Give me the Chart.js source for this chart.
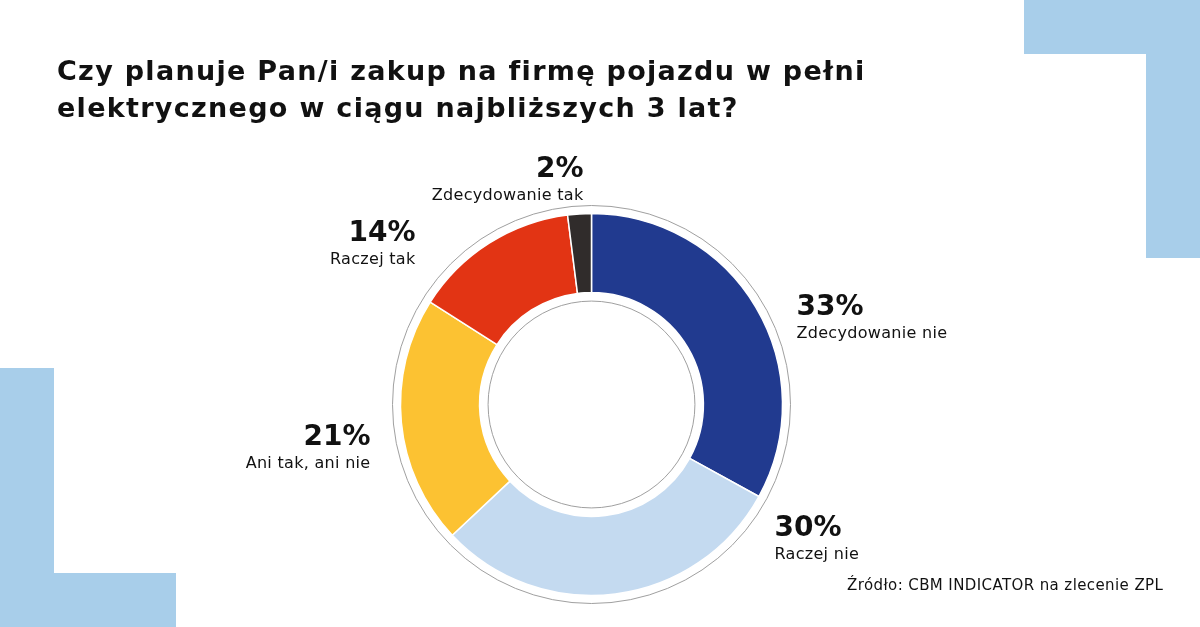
<!DOCTYPE html>
<html lang="pl">
<head>
<meta charset="utf-8">
<script src="https://cdn.jsdelivr.net/npm/chart.js@4.4.1/dist/chart.umd.min.js"></script>
<style>
  html, body { margin: 0; padding: 0; background: #fff; }
  #wrap { width: 1200px; height: 627px; }
</style>
</head>
<body>
<div id="wrap"><canvas id="chart" width="1200" height="627"></canvas></div>
<script>
// dane z wykresu
const categories = ['Zdecydowanie nie', 'Raczej nie', 'Ani tak, ani nie', 'Raczej tak', 'Zdecydowanie tak'];
const shares = [33, 30, 21, 14, 2];
const percentLabels = ['33%', '30%', '21%', '14%', '2%'];
const titleLines = ['Czy planuje Pan/i zakup na firmę pojazdu w pełni', 'elektrycznego w ciągu najbliższych 3 lat?'];
const sourceNote = 'Źródło: CBM INDICATOR na zlecenie ZPL';

// wyglad
const sliceColors = ['#213a8f', '#c4daf0', '#fcc232', '#e23414', '#302c2b'];
const accent = '#a8ceea';
const textColor = '#111111';
const fontFamily = '"DejaVu Sans", "Noto Sans", sans-serif';

// polozenie etykiet wzgledem srodka pierscienia (px)
const labelPlacement = [
    { dx: 205, dy: -90, align: 'left' },
    { dx: 183, dy: 131, align: 'left' },
    { dx: -221, dy: 40, align: 'right' },
    { dx: -176, dy: -164, align: 'right' },
    { dx: -8, dy: -228, align: 'right' }
];

const backgroundPlugin = {
    id: 'background',
    beforeDraw(chart) {
        const ctx = chart.ctx;
        ctx.save();
        ctx.fillStyle = '#fff';
        ctx.fillRect(0, 0, chart.width, chart.height);

        // narozniki
        ctx.fillStyle = accent;
        ctx.fillRect(1024, 0, 176, 54);
        ctx.fillRect(1146, 0, 54, 258);
        ctx.fillRect(0, 368, 54, 259);
        ctx.fillRect(0, 573, 176, 54);

        // tytul
        ctx.fillStyle = textColor;
        ctx.textAlign = 'left';
        ctx.textBaseline = 'alphabetic';
        ctx.font = 'bold 27px ' + fontFamily;
        ctx.letterSpacing = '1.3px';
        titleLines.forEach((line, i) => {
            ctx.fillText(line, 57, 80 + i * 37);
        });

        // zrodlo
        ctx.font = '15px ' + fontFamily;
        ctx.letterSpacing = '0.4px';
        ctx.fillText(sourceNote, 847, 590);
        ctx.restore();
    }
};

const ringPlugin = {
    id: 'rings',
    afterDatasetsDraw(chart) {
        const arc = chart.getDatasetMeta(0).data[0];
        if (!arc) return;
        const ctx = chart.ctx;
        ctx.save();
        ctx.strokeStyle = '#a0a0a0';
        ctx.lineWidth = 1;
        ctx.beginPath();
        ctx.arc(arc.x, arc.y, arc.outerRadius + 8, 0, Math.PI * 2);
        ctx.stroke();
        ctx.beginPath();
        ctx.arc(arc.x, arc.y, arc.innerRadius - 8.5, 0, Math.PI * 2);
        ctx.stroke();
        ctx.restore();
    }
};

const labelPlugin = {
    id: 'sliceLabels',
    afterDatasetsDraw(chart) {
        const arc = chart.getDatasetMeta(0).data[0];
        if (!arc) return;
        const ctx = chart.ctx;
        ctx.save();
        ctx.fillStyle = textColor;
        ctx.textBaseline = 'alphabetic';
        categories.forEach((name, i) => {
            const p = labelPlacement[i];
            const x = arc.x + p.dx;
            const y = arc.y + p.dy;
            ctx.textAlign = p.align;
            ctx.letterSpacing = '0px';
            ctx.font = 'bold 28px ' + fontFamily;
            ctx.fillText(percentLabels[i], x, y);
            ctx.letterSpacing = '0.3px';
            ctx.font = '16px ' + fontFamily;
            ctx.fillText(name, x, y + 23);
        });
        ctx.restore();
    }
};

new Chart(document.getElementById('chart'), {
    type: 'doughnut',
    data: {
        labels: categories,
        datasets: [{
            data: shares,
            backgroundColor: sliceColors,
            borderColor: '#ffffff',
            borderWidth: 1.5,
            hoverOffset: 0
        }]
    },
    options: {
        responsive: false,
        animation: false,
        cutout: '58.6%',
        layout: { padding: { left: 399.75, right: 416.75, top: 212.75, bottom: 30.75 } },
        plugins: {
            legend: { display: false },
            tooltip: { enabled: false }
        }
    },
    plugins: [backgroundPlugin, ringPlugin, labelPlugin]
});
</script>
</body>
</html>
